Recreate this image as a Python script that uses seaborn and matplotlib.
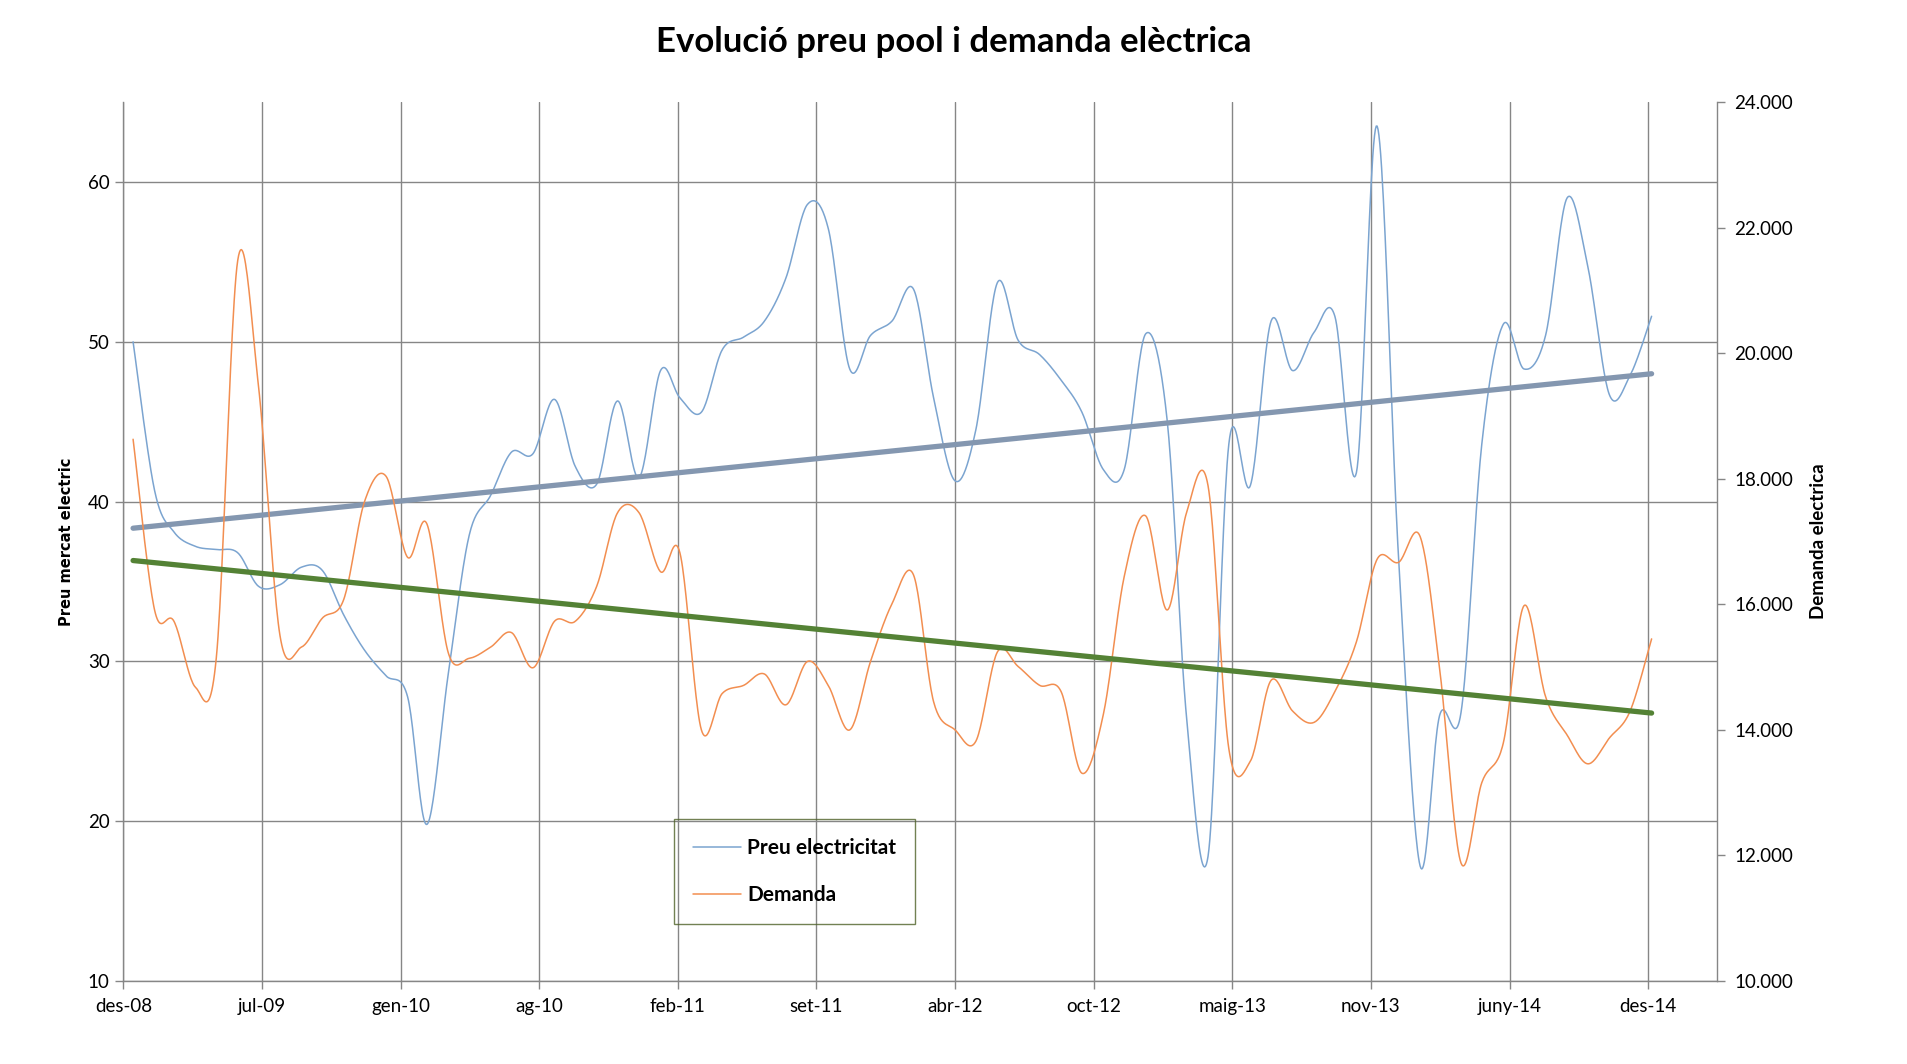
import numpy as np
import pandas as pd
import seaborn as sns
import matplotlib.pyplot as plt
from matplotlib.lines import Line2D
from matplotlib.ticker import FuncFormatter

## dades mensuals (gen-2009 .. gen-2015)
preu = [50.0, 40.7, 38.1, 37.2, 37.0, 36.8, 34.7, 34.8, 35.9, 35.7,
        32.9, 30.7, 29.1, 27.8, 19.8, 29.3, 37.9, 40.4, 43.1, 43.0,
        46.4, 42.2, 41.1, 46.3, 41.5, 48.2, 46.5, 45.6, 49.5, 50.3,
        51.3, 54.0, 58.6, 57.1, 48.3, 50.4, 51.3, 53.3, 46.5, 41.3,
        44.5, 53.7, 50.1, 49.2, 47.6, 45.6, 42.0, 42.0, 50.5, 45.1,
        26.5, 17.8, 43.6, 41.0, 51.3, 48.2, 50.6, 51.6, 41.8, 63.5,
        36.4, 17.2, 26.6, 26.8, 43.6, 51.1, 48.3, 50.4, 59.0, 54.7,
        46.7, 47.9, 51.6]

demanda = [18630, 15910, 15730, 14680, 15140, 21480, 19470, 15500, 15320, 15780,
           16080, 17640, 18040, 16750, 17280, 15220, 15140, 15320, 15550, 14990,
           15730, 15730, 16290, 17460, 17460, 16520, 16820, 14000, 14580, 14710,
           14890, 14400, 15090, 14710, 14000, 15090, 16010, 16470, 14450, 14000,
           13820, 15240, 15010, 14710, 14610, 13310, 14250, 16440, 17410, 15910,
           17460, 17890, 13700, 13500, 14790, 14300, 14120, 14610, 15400, 16720,
           16670, 17080, 14990, 11880, 13160, 13790, 15980, 14530, 13920, 13460,
           13870, 14300, 15450]

tick_labels = ['des-08', 'jul-09', 'gen-10', 'ag-10', 'feb-11', 'set-11',
               'abr-12', 'oct-12', 'maig-13', 'nov-13', 'juny-14', 'des-14']

dates = pd.date_range('2009-01-01', periods=len(preu), freq='MS')
origen = pd.Timestamp('2008-12-18')
df = pd.DataFrame({'dies': (dates - origen).days.astype(float),
                   'preu': preu, 'demanda': demanda})


# linia suavitzada tipus Excel (bezier amb punts de control a 1/6)
def suavitza(x, y, n=24):
    p = np.column_stack([x, y]).astype(float)
    out = []
    for i in range(len(p) - 1):
        p0 = p[i - 1] if i > 0 else p[i]
        p1, p2 = p[i], p[i + 1]
        p3 = p[i + 2] if i + 2 < len(p) else p[i + 1]
        c1 = p1 + (p2 - p0) / 6
        c2 = p2 - (p3 - p1) / 6
        t = np.linspace(0, 1, n, endpoint=False)[:, None]
        out.append((1 - t) ** 3 * p1 + 3 * (1 - t) ** 2 * t * c1
                   + 3 * (1 - t) * t ** 2 * c2 + t ** 3 * p2)
    out.append(p[-1:])
    out = np.vstack(out)
    return pd.DataFrame({'x': out[:, 0], 'y': out[:, 1]})


sns.set_theme(style='white')
plt.rcParams['font.family'] = ['Lato', 'DejaVu Sans']
plt.rcParams['text.color'] = 'black'
plt.rcParams['axes.labelcolor'] = 'black'

fig = plt.figure(figsize=(19.07, 10.64), dpi=100)
ax = fig.add_axes([0.0647, 0.078, 0.8359, 0.826])
ax2 = ax.twinx()

gris = '#868686'
blau = '#7BA4D0'
taronja = '#F28E50'

s1 = suavitza(df['dies'], df['preu'])
s2 = suavitza(df['dies'], df['demanda'])
sns.lineplot(data=s1, x='x', y='y', ax=ax, sort=False, color=blau, lw=1.1, zorder=3)
sns.lineplot(data=s2, x='x', y='y', ax=ax2, sort=False, color=taronja, lw=1.1, zorder=3)

# linies de tendencia
c1 = np.polyfit(df['dies'], df['preu'], 1)
c2 = np.polyfit(df['dies'], df['demanda'], 1)
xt = df['dies'].iloc[[0, -1]].to_numpy()
ax.plot(xt, np.polyval(c1, xt), color='#8497B0', lw=3.8, solid_capstyle='round', zorder=4)
ax2.plot(xt, np.polyval(c2, xt), color='#548235', lw=3.8, solid_capstyle='round', zorder=4)

ax.set_xlim(0, 2300)
ax.set_ylim(10, 65)
ax2.set_ylim(10000, 24000)
ax.set_xticks(np.arange(0, 2201, 200))
ax.set_xticklabels(tick_labels)
ax.set_yticks(np.arange(10, 61, 10))
ax2.set_yticks(np.arange(10000, 24001, 2000))
ax2.yaxis.set_major_formatter(FuncFormatter(lambda v, _: f'{int(v):,}'.replace(',', '.')))

ax.grid(True, color=gris, lw=1.0)
ax2.grid(False)
ax.set_axisbelow(True)
for s in ['top', 'right']:
    ax.spines[s].set_visible(False)
for s in ['top', 'left', 'bottom']:
    ax2.spines[s].set_visible(False)
for s in [ax.spines['left'], ax.spines['bottom'], ax2.spines['right']]:
    s.set_color(gris)
    s.set_linewidth(1.0)

ax.tick_params(axis='both', which='major', direction='out', length=6, width=1,
               color=gris, labelsize=13.5, labelcolor='black', pad=4,
               left=True, bottom=True)
ax.tick_params(axis='x', pad=6)
ax2.tick_params(axis='y', direction='out', length=6, width=1, color=gris,
                labelsize=13.5, labelcolor='black', right=True, pad=6)

ax.set_xlabel('')
ax.set_ylabel('Preu mercat electric', family='DejaVu Sans', fontweight='bold',
              fontsize=10.5, labelpad=10)
ax2.set_ylabel('Demanda electrica', fontweight='bold', fontsize=13.5, labelpad=12)

fig.text(0.5, 0.9605, 'Evolució preu pool i demanda elèctrica', ha='center',
         va='center', fontsize=25, fontweight='bold')

handles = [Line2D([], [], color=blau, lw=1.1), Line2D([], [], color=taronja, lw=1.1)]
leg = ax.legend(handles, ['Preu electricitat', 'Demanda'], loc='lower left',
                bbox_to_anchor=(0.3455, 0.065), frameon=True, fancybox=False,
                prop={'weight': 'bold', 'size': 15}, handlelength=2.3,
                handletextpad=0.3, labelspacing=1.3, borderpad=0.9,
                borderaxespad=0)
leg.get_frame().set_edgecolor('#4F6228')
leg.get_frame().set_facecolor('none')
leg.get_frame().set_linewidth(1.0)
leg.set_zorder(10)

fig.savefig('out.png', dpi=100)
